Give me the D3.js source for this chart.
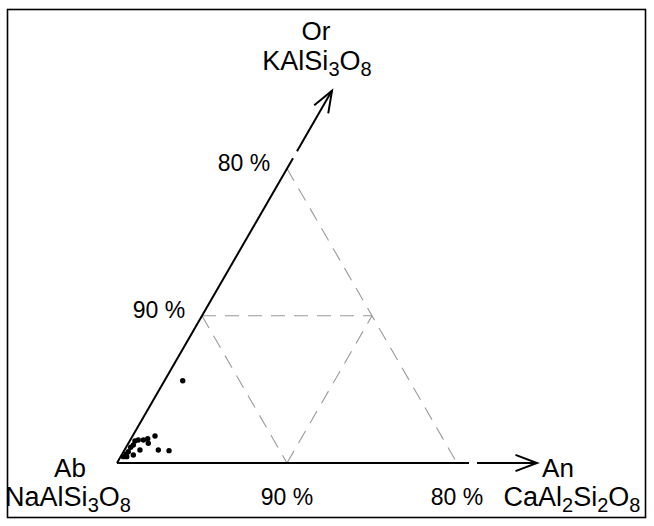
<!DOCTYPE html>
<html><head><meta charset="utf-8">
<script src="https://cdn.jsdelivr.net/npm/d3@7/dist/d3.min.js"></script>
<style>body{margin:0;background:#fff}svg text{font-family:"Liberation Sans",Arial,sans-serif;fill:#000}</style>
</head><body><svg id="c" width="654" height="526"></svg>
<script>
// Data: compositions in percent (Ab, Or, An)
const abPct = [93.34,96.85,97.37,97.67,97.97,98.20,97.49,98.43,98.66,98.21,97.13,96.52,98.95,99.17,98.77,99.41,99.21];
const orPct = [5.59,1.83,1.65,1.56,1.56,1.49,1.34,1.22,1.07,0.88,0.88,0.84,0.77,0.59,0.54,0.43,0.43];
const anPct = [1.07,1.32,0.98,0.77,0.47,0.31,1.17,0.35,0.27,0.91,1.99,2.64,0.28,0.24,0.69,0.16,0.36];
const abTicks = [90, 80];
const abMin = 80;

const svg = d3.select("#c");
const x0 = 117, y0 = 463, side = 340;
const s = d3.scaleLinear().domain([0, 100 - abMin]).range([0, side]);
const c60 = Math.cos(Math.PI/3), s60 = Math.sin(Math.PI/3);
function proj(or, an){ return [x0 + s(an) + s(or)*c60, y0 - s(or)*s60]; }

// frame
svg.append("rect").attr("x",7.5).attr("y",9.5).attr("width",638).attr("height",508)
  .attr("fill","none").attr("stroke","#000").attr("stroke-width",1.6);

const grid = svg.append("g").attr("stroke","#999").attr("stroke-width",1.1)
  .attr("stroke-dasharray","14,9").attr("fill","none");
abTicks.forEach(ab=>{
  const r = 100-ab;
  const a = proj(r,0), b = proj(0,r);
  grid.append("line").attr("x1",a[0]).attr("y1",a[1]).attr("x2",b[0]).attr("y2",b[1]);
});
[10].forEach(v=>{
  const m = 100-abMin-v;
  let a = proj(v,0), b = proj(v,m);
  grid.append("line").attr("x1",a[0]).attr("y1",a[1]).attr("x2",b[0]).attr("y2",b[1]);
  a = proj(0,v); b = proj(m,v);
  grid.append("line").attr("x1",a[0]).attr("y1",a[1]).attr("x2",b[0]).attr("y2",b[1]);
});

// axes
const ax = svg.append("g").attr("stroke","#000").attr("stroke-width",2).attr("fill","none");
const ext = 12, gap = 8;
function axisLine(dx, dy, arrowEnd){
  const p = t => [x0 + dx*t, y0 + dy*t];
  const a = p(0), b = p(side+ext), c = p(side+ext+gap), d = p(arrowEnd);
  ax.append("line").attr("x1",a[0]).attr("y1",a[1]).attr("x2",b[0]).attr("y2",b[1]);
  ax.append("line").attr("x1",c[0]).attr("y1",c[1]).attr("x2",d[0]).attr("y2",d[1]);
  const ang = Math.atan2(dy,dx), h = 23, w = 0.36;
  const h1 = [d[0]-h*Math.cos(ang-w), d[1]-h*Math.sin(ang-w)];
  const h2 = [d[0]-h*Math.cos(ang+w), d[1]-h*Math.sin(ang+w)];
  ax.append("polyline").attr("points",[h1,d,h2].map(q=>q.join(",")).join(" "));
}
axisLine(1,0,420);
axisLine(c60,-s60,430);

// points
svg.append("g").selectAll("circle").data(orPct.map((o,i)=>[o,anPct[i]])).join("circle")
  .attr("cx",d=>proj(d[0],d[1])[0]).attr("cy",d=>proj(d[0],d[1])[1]).attr("r",2.7).attr("fill","#000");

// tick labels
abTicks.forEach(ab=>{
  const r = 100-ab;
  const a = proj(r,0), b = proj(0,r);
  svg.append("text").attr("x",a[0]-43).attr("y",a[1]+2).attr("text-anchor","middle").attr("font-size",23).text(ab+" %");
  svg.append("text").attr("x",b[0]).attr("y",b[1]+42).attr("text-anchor","middle").attr("font-size",23).text(ab+" %");
});

function chem(x,y,segs,fs,ss){
  const t = svg.append("text").attr("x",x).attr("y",y).attr("text-anchor","middle").attr("font-size",fs);
  let down = false;
  segs.forEach(sg=>{
    if(typeof sg === "string"){ t.append("tspan").attr("dy", down? -6:0).text(sg); down=false; }
    else { t.append("tspan").attr("font-size",ss).attr("dy", down?0:6).text(sg[0]); down=true; }
  });
}
chem(316,40,["Or"],26);
chem(317,70,["KAlSi",["3"],"O",["8"]],27,20);
chem(70,477,["Ab"],26);
chem(68,506,["NaAlSi",["3"],"O",["8"]],27,20);
chem(558,477,["An"],26);
chem(572,506,["CaAl",["2"],"Si",["2"],"O",["8"]],27,20);
</script></body></html>
